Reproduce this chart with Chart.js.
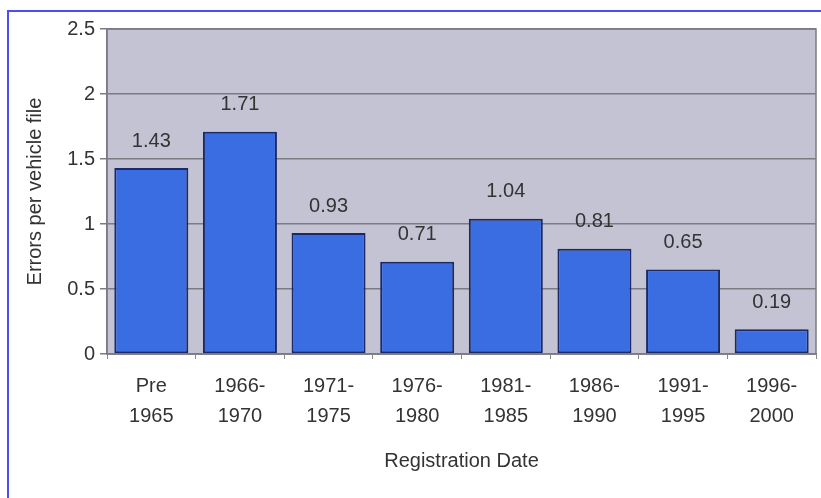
<!DOCTYPE html>
<html>
<head>
<meta charset="utf-8">
<title>Errors per vehicle file</title>
<script src="https://cdn.jsdelivr.net/npm/chart.js@4"></script>
<style>
    html, body { margin: 0; padding: 0; background: #fff; }
    #wrap { position: relative; width: 821px; height: 498px; overflow: hidden; }
    #frame {
        position: absolute; left: 7px; top: 10px; width: 900px; height: 600px;
        border-left: 2px solid #4d4df5; border-top: 2px solid #4d4df5;
        pointer-events: none;
    }
</style>
</head>
<body>
<div id="wrap">
    <canvas id="errorsChart"></canvas>
    <div id="frame"></div>
</div>
<script>
// Registration periods (two-line tick labels)
const periods = [
    ['Pre', '1965'],
    ['1966-', '1970'],
    ['1971-', '1975'],
    ['1976-', '1980'],
    ['1981-', '1985'],
    ['1986-', '1990'],
    ['1991-', '1995'],
    ['1996-', '2000']
];
// Average errors found per vehicle file
const errorsPerFile = [1.43, 1.71, 0.93, 0.71, 1.04, 0.81, 0.65, 0.19];

const textColor = '#333333';
const fontFamily = '"Liberation Sans", Arial, sans-serif';

// Grey plot area with a dark outline
const plotBackground = {
    id: 'plotBackground',
    beforeDraw(chart) {
        const { ctx, chartArea: a } = chart;
        ctx.save();
        ctx.fillStyle = '#c4c3d4';
        ctx.fillRect(a.left, a.top, a.right - a.left, a.bottom - a.top);
        ctx.restore();
    },
    afterDraw(chart) {
        const { ctx, chartArea: a } = chart;
        ctx.save();
        ctx.strokeStyle = '#7b7b84';
        ctx.lineWidth = 1.5;
        ctx.strokeRect(a.left, a.top, a.right - a.left, a.bottom - a.top);
        ctx.restore();
    }
};

// Value printed above each bar
const valueLabels = {
    id: 'valueLabels',
    afterDatasetsDraw(chart) {
        const { ctx } = chart;
        const meta = chart.getDatasetMeta(0);
        ctx.save();
        ctx.fillStyle = textColor;
        ctx.font = '20px ' + fontFamily;
        ctx.textAlign = 'center';
        ctx.textBaseline = 'middle';
        meta.data.forEach((bar, i) => {
            ctx.fillText(errorsPerFile[i].toFixed(2), bar.x, bar.y - 27);
        });
        ctx.restore();
    }
};

const chartCtx = document.getElementById('errorsChart').getContext('2d');
new Chart(chartCtx, {
    type: 'bar',
    data: {
        labels: periods,
        datasets: [{
            data: errorsPerFile,
            backgroundColor: '#3b6de2',
            borderColor: '#1b2a66',
            borderWidth: 2,
            borderSkipped: false,
            barPercentage: 0.835,
            categoryPercentage: 1
        }]
    },
    options: {
        responsive: true,
        maintainAspectRatio: false,
        animation: false,
        layout: { padding: { left: 8, right: 5, top: 29, bottom: 0 } },
        plugins: {
            legend: { display: false },
            tooltip: { enabled: false }
        },
        scales: {
            x: {
                grid: { drawOnChartArea: false, tickLength: 5, color: '#888' },
                border: { color: '#7b7b84', width: 1.5 },
                ticks: {
                    color: textColor,
                    padding: 12,
                    maxRotation: 0,
                    font: { family: fontFamily, size: 20, lineHeight: 1.5 }
                },
                title: {
                    display: true,
                    text: 'Registration Date',
                    color: textColor,
                    font: { family: fontFamily, size: 20 },
                    padding: { top: 0, bottom: 25 }
                },
                afterFit(scale) { scale.height = 144; }
            },
            y: {
                min: 0,
                max: 2.5,
                grid: { color: '#7b7b84', lineWidth: 1.5, tickLength: 7 },
                border: { color: '#7b7b84', width: 1.5 },
                ticks: {
                    stepSize: 0.5,
                    color: textColor,
                    padding: 5,
                    font: { family: fontFamily, size: 20 },
                    callback: (value) => String(value)
                },
                title: {
                    display: true,
                    text: 'Errors per vehicle file',
                    color: textColor,
                    font: { family: fontFamily, size: 20 },
                    padding: { top: 15, bottom: 0 }
                },
                afterFit(scale) { scale.width = 99; }
            }
        }
    },
    plugins: [plotBackground, valueLabels]
});
</script>
</body>
</html>
